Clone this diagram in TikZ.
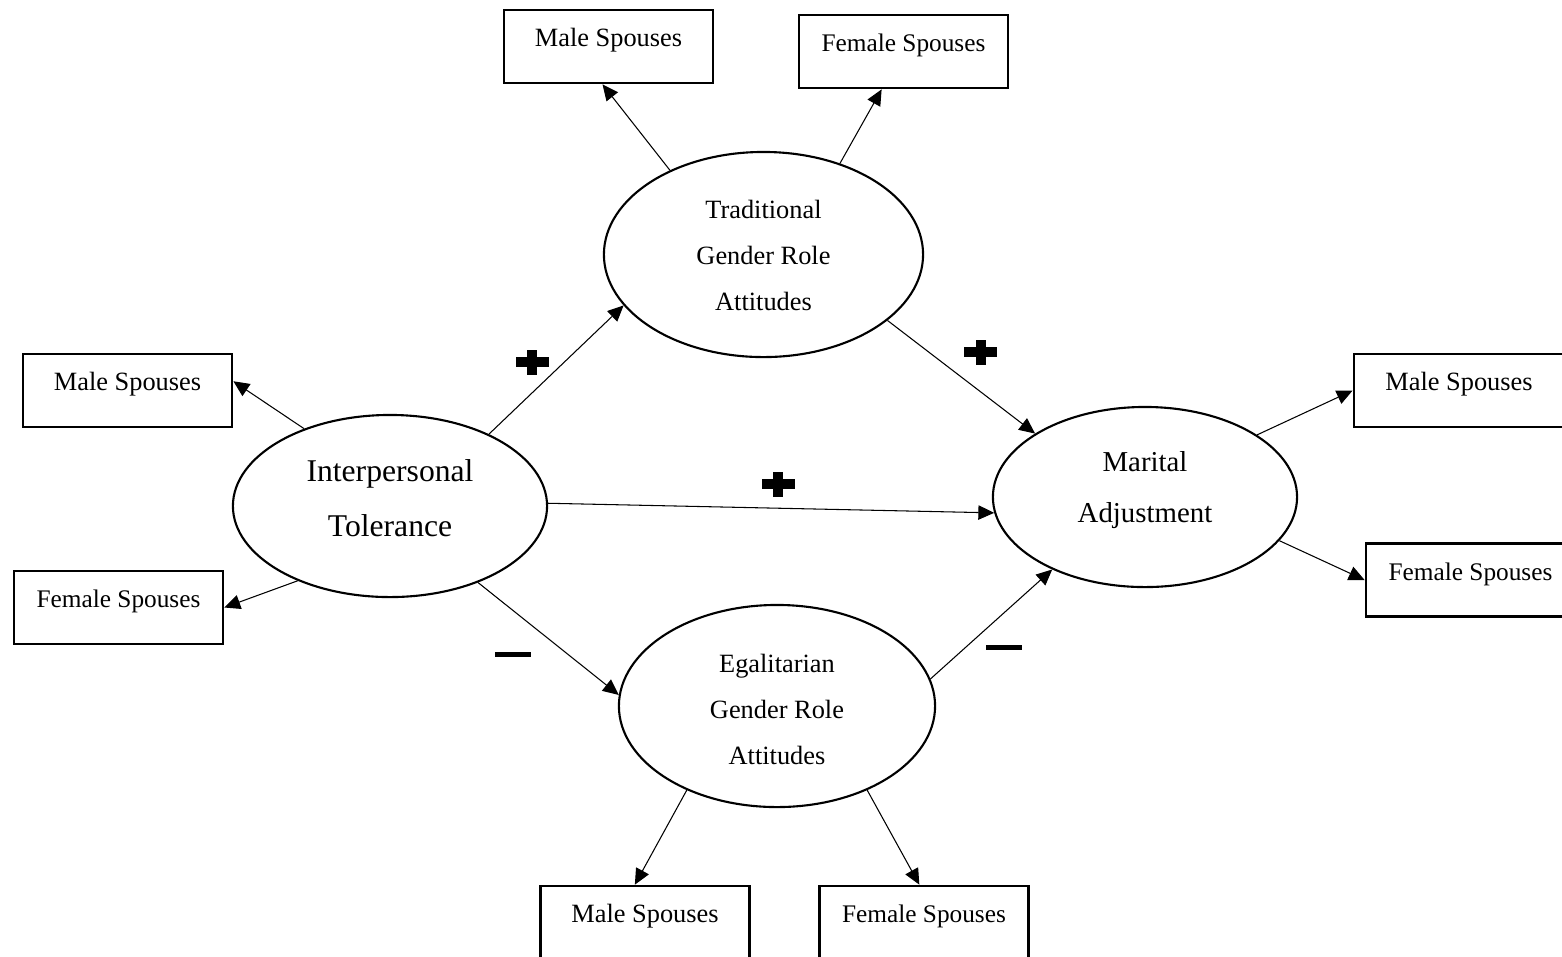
\documentclass[tikz,border=0pt]{standalone}
\usepackage{fontspec}
\setmainfont{Liberation Serif}
\usetikzlibrary{shapes.geometric,arrows.meta}
\begin{document}
\begin{tikzpicture}[x=0.01cm,y=-0.01cm,
  box/.style={draw, line width=0.75pt, minimum width=2.09cm, minimum height=0.73cm, inner sep=0pt, text height=7pt, text depth=7pt},
  mfont/.style={font=\fontsize{7.5}{9}\selectfont},
  ffont/.style={font=\fontsize{7.2}{9}\selectfont},
  latent/.style={ellipse, draw, line width=0.6pt, inner sep=0pt, align=center},
  arr/.style={line width=0.3pt, -{Triangle[length=4.5pt,width=4.1pt]}},
  plussign/.pic={\fill (-16.5,-5.2) rectangle (16.5,5.2); \fill (-5.2,-12.5) rectangle (5.2,12.5);},
  minussign/.pic={\fill (-18,-2.5) rectangle (18,2.5);}
]
\useasboundingbox (0,0) rectangle (1562,956);

% latent variables
\node[latent, minimum width=3.19cm, minimum height=2.05cm, font=\fontsize{7.5}{13.1}\selectfont] (trad) at (763.5,254.5)
  {\rule{0pt}{8pt}Traditional\\Gender Role\\Attitudes\rule[-2.3pt]{0pt}{2.3pt}};
\node[latent, minimum width=3.16cm, minimum height=2.02cm, font=\fontsize{7.5}{13.1}\selectfont] (egal) at (777,706)
  {\rule{0pt}{8pt}Egalitarian\\Gender Role\\Attitudes\rule[-1pt]{0pt}{1pt}};
\node[latent, minimum width=3.14cm, minimum height=1.82cm, font=\fontsize{9}{15.65}\selectfont] (inter) at (390,506)
  {\rule{0pt}{7pt}Interpersonal\\Tolerance\rule[-5.1pt]{0pt}{5.1pt}};
\node[latent, minimum width=3.04cm, minimum height=1.80cm, font=\fontsize{8.2}{14.5}\selectfont] (mar) at (1145,497)
  {\rule{0pt}{6pt}Marital\\Adjustment\rule[-6pt]{0pt}{6pt}};

% indicator boxes
\node[box, mfont] (tm) at (608.5,46.5) {Male Spouses};
\node[box, ffont] (tf) at (903.5,51.5) {Female Spouses};
\node[box, mfont] (lm) at (127.5,390.5) {Male Spouses};
\node[box, ffont] (lf) at (118.5,607.5) {Female Spouses};
\node[box, mfont, minimum width=2.10cm] (rm) at (1459,390.5) {Male Spouses};
\node[box, ffont] (rf) at (1470.5,580) {Female Spouses};
\node[box, mfont] (bm) at (645,922.5) {Male Spouses};
\node[box, ffont] (bf) at (924,922.5) {Female Spouses};

% connectors
\draw[arr] (trad.138.5) -- (tm.261);
\draw[arr] (trad.50.9) -- (tf.240);
\draw[arr] (inter.138.9) -- (lm.5);
\draw[arr] (inter.219.3) -- (lf.east);
\draw[arr] (inter.36.6) -- (trad.200.8);
\draw[arr] (inter.1.5) -- (mar.186.3);
\draw[arr] (inter.319.4) -- (egal.176.8);
\draw[arr] (trad.332.2) -- (mar.150.3);
\draw[arr] (egal.10.7) -- (mar.218);
\draw[arr] (mar.29) -- (rm.west);
\draw[arr] (mar.342.6) -- (rf.west);
\draw[arr] (egal.223.7) -- (bm.105.3);
\draw[arr] (egal.317.2) -- (bf.97.4);

% signs
\pic at (532,362) {plussign};
\pic at (980.7,352) {plussign};
\pic at (778,484) {plussign};
\pic at (513,654) {minussign};
\pic at (1003.7,647) {minussign};
\end{tikzpicture}
\end{document}
